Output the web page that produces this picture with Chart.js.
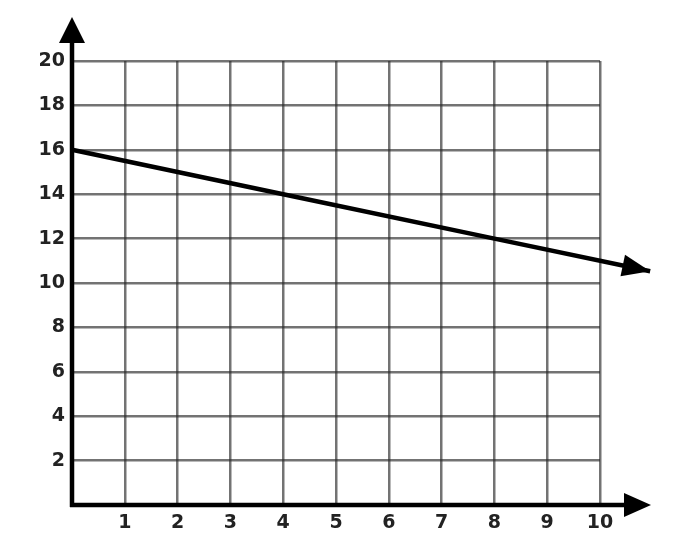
<!DOCTYPE html>
<html>
<head>
<meta charset="utf-8">
<script src="https://cdn.jsdelivr.net/npm/chart.js@4.4.1/dist/chart.umd.min.js"></script>
<style>
  html, body { margin: 0; padding: 0; background: #fff; }
  #wrap { width: 685px; height: 550px; }
</style>
</head>
<body>
<div id="wrap"><canvas id="c"></canvas></div>
<script>
// line values (slope -1/2, arrow runs past x = 10)
const lineX = [0, 4, 8, 10.95];
const lineY = [16, 14, 12, 10.53];

const xTicks = [1, 2, 3, 4, 5, 6, 7, 8, 9, 10];
const yTicks = [2, 4, 6, 8, 10, 12, 14, 16, 18, 20];

const tickFont = { family: "DejaVu Sans", size: 19, weight: "bold" };

// draws the two axis lines with arrows, and the arrowhead on the data line
const arrowsPlugin = {
  id: "arrows",
  afterDatasetsDraw(chart) {
    const { ctx, scales: { x, y } } = chart;
    const x0 = x.getPixelForValue(0);
    const y0 = y.getPixelForValue(0);

    const head = (tx, ty, ang, len, wid) => {
      ctx.save();
      ctx.translate(tx, ty);
      ctx.rotate(ang);
      ctx.beginPath();
      ctx.moveTo(0, 0);
      ctx.lineTo(-len, -wid / 2);
      ctx.lineTo(-len, wid / 2);
      ctx.closePath();
      ctx.fillStyle = "#000";
      ctx.fill();
      ctx.restore();
    };

    ctx.save();
    ctx.strokeStyle = "#000";
    ctx.lineWidth = 4.5;
    ctx.lineCap = "butt";
    // x axis
    ctx.beginPath();
    ctx.moveTo(x0 - 2, y0);
    ctx.lineTo(630, y0);
    ctx.stroke();
    // y axis
    ctx.beginPath();
    ctx.moveTo(x0, y0 + 2);
    ctx.lineTo(x0, 40);
    ctx.stroke();
    ctx.restore();

    head(651, y0, 0, 27, 24);
    head(x0, 17, -Math.PI / 2, 26, 26);

    // arrowhead at the end of the data line
    const n = lineX.length;
    const tx = x.getPixelForValue(lineX[n - 1]);
    const ty = y.getPixelForValue(lineY[n - 1]);
    const px = x.getPixelForValue(lineX[n - 2]);
    const py = y.getPixelForValue(lineY[n - 2]);
    head(tx, ty, Math.atan2(ty - py, tx - px), 28, 22);
  }
};

new Chart(document.getElementById("c"), {
  type: "scatter",
  data: {
    datasets: [{
      data: lineX.map((v, i) => ({ x: v, y: lineY[i] })),
      showLine: true,
      borderColor: "#000",
      borderWidth: 4.5,
      pointRadius: 0,
      clip: false,
      tension: 0
    }]
  },
  options: {
    responsive: true,
    maintainAspectRatio: false,
    animation: false,
    events: [],
    layout: { padding: { top: 61, right: 85, left: 0, bottom: 0 } },
    plugins: { legend: { display: false }, tooltip: { enabled: false } },
    scales: {
      x: {
        type: "linear",
        min: 0,
        max: 10,
        afterFit(scale) { scale.height = 45; },
        afterBuildTicks(scale) { scale.ticks = [0].concat(xTicks).map(v => ({ value: v })); },
        border: { display: false },
        grid: { color: "rgba(40,40,40,0.65)", lineWidth: 2.5, drawTicks: false },
        ticks: {
          color: "#222",
          font: tickFont,
          padding: 7,
          maxRotation: 0,
          callback: (v) => (v === 0 ? "" : String(v))
        }
      },
      y: {
        type: "linear",
        min: 0,
        max: 20,
        afterFit(scale) { scale.width = 72; },
        afterBuildTicks(scale) { scale.ticks = [0].concat(yTicks).map(v => ({ value: v })); },
        border: { display: false },
        grid: { color: "rgba(40,40,40,0.65)", lineWidth: 2.5, drawTicks: false },
        ticks: {
          color: "#222",
          font: tickFont,
          padding: 7,
          callback: (v) => (v === 0 ? "" : String(v))
        }
      }
    }
  },
  plugins: [arrowsPlugin]
});
</script>
</body>
</html>
